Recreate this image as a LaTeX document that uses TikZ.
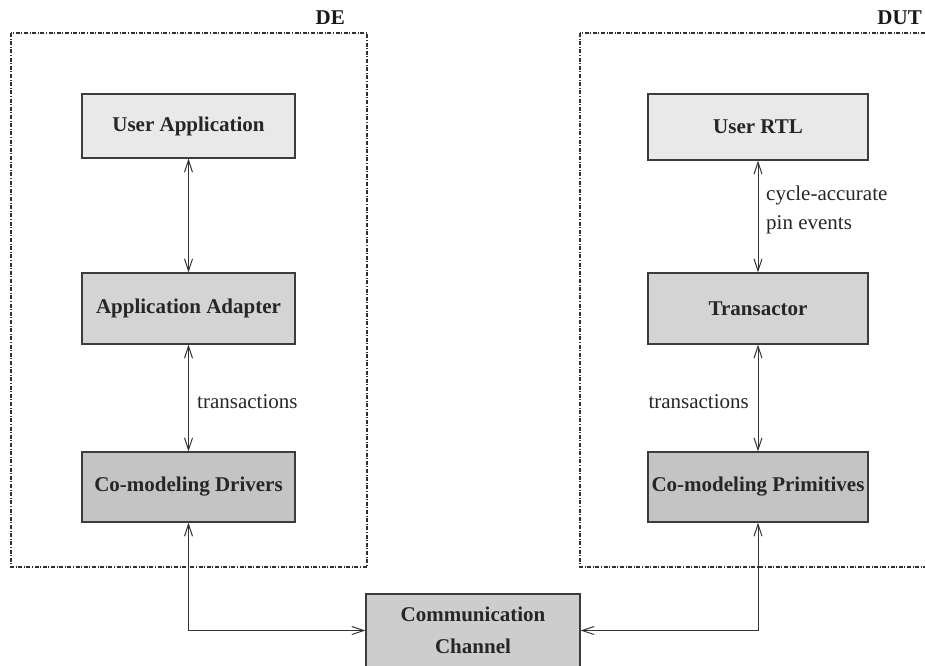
\documentclass[tikz,border=0pt]{standalone}
\usepackage{fontspec}
\setmainfont{Liberation Serif}
\usetikzlibrary{arrows.meta}
\definecolor{fillA}{RGB}{233,233,233}
\definecolor{fillB}{RGB}{212,212,212}
\definecolor{fillC}{RGB}{196,196,196}
\definecolor{fillD}{RGB}{205,205,205}
\definecolor{edge}{RGB}{60,60,60}
\definecolor{frameC}{RGB}{50,50,50}
\tikzset{
  blk/.style={draw=edge, line width=1.2pt, inner sep=2pt,
    font=\fontsize{21}{25}\selectfont\bfseries, text=black!85},
  frm/.style={draw=frameC, line width=1.1pt,
    dash pattern=on 4pt off 1.6pt on 1pt off 1.6pt},
  conn/.style={draw=black!80, line width=1pt,
    {Straight Barb[length=12pt,width=8pt]}-{Straight Barb[length=12pt,width=8pt]}},
  lbl/.style={font=\fontsize{21}{29}\selectfont, text=black!85, inner sep=0pt},
  ttl/.style={font=\fontsize{21}{25}\selectfont\bfseries, text=black!90, inner sep=0pt}
}
\begin{document}
\begin{tikzpicture}[x=1pt,y=-1pt]
\useasboundingbox (0,0) rectangle (925,665);
\clip (0,0) rectangle (925,665);
% frames
\draw[frm] (11,33) rectangle (367,567);
\draw[frm] (580,33) rectangle (940,567);
\node[ttl, anchor=base east] (de) at (345,24) {DE};
\node[ttl, anchor=base east] (dut) at (922,24) {DUT};
% left column
\node[blk, fill=fillA, minimum width=213pt, minimum height=64pt] (ua) at (188.5,126) {User Application};
\node[blk, fill=fillB, minimum width=213pt, minimum height=71pt] (aa) at (188.5,308.5) {Application Adapter};
\node[blk, fill=fillC, minimum width=213pt, minimum height=70pt] (cd) at (188.5,487) {Co-modeling Drivers};
% right column
\node[blk, fill=fillA, minimum width=220pt, minimum height=66pt] (ur) at (758,127) {User RTL};
\node[blk, fill=fillB, minimum width=220pt, minimum height=71pt] (tr) at (758,308.5) {Transactor};
\node[blk, fill=fillC, minimum width=220pt, minimum height=70pt] (cp) at (758,487) {Co-modeling Primitives};
% channel
\node[blk, fill=fillD, minimum width=214pt, minimum height=73pt, align=center,
  font=\fontsize{21}{32}\selectfont\bfseries] (ch) at (473,630.5) {Communication\\Channel};
% connectors
\draw[conn] (ua.south) -- (aa.north);
\draw[conn] (aa.south) -- (cd.north);
\draw[conn] (ur.south) -- (tr.north);
\draw[conn] (tr.south) -- (cp.north);
\draw[conn] (cd.south) |- (ch.west);
\draw[conn] (cp.south) |- (ch.east);
% labels
\node[lbl, anchor=west] (t1) at (197,402) {transactions};
\node[lbl, anchor=east] (t2) at (749,402) {transactions};
\node[lbl, anchor=west, align=left] (ce) at (766,209.5) {cycle-accurate\\pin events};
\end{tikzpicture}
\end{document}
